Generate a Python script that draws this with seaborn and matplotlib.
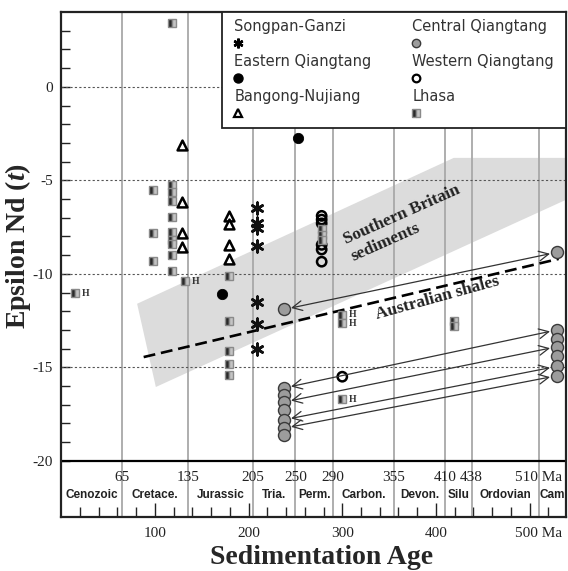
import matplotlib
matplotlib.use('Agg')
import matplotlib.pyplot as plt
import matplotlib.transforms as mtransforms
from matplotlib.patches import Rectangle
import seaborn as sns
import pandas as pd

#%% data (age in Ma, epsilon Nd)
songpan_age = [209, 209, 209, 209, 209, 209, 209]
songpan_eps = [-6.5, -7.3, -7.55, -8.5, -11.5, -12.7, -14.0]

eastern_age = [172, 253]
eastern_eps = [-11.1, -2.75]

bangong_age = [129, 129, 129, 129, 179, 179, 179, 179]
bangong_eps = [-3.1, -6.15, -7.8, -8.55, -6.9, -7.35, -8.45, -9.2]

western_age = [278, 278, 278, 278, 278, 278, 300]
western_eps = [-6.9, -7.1, -7.3, -8.45, -8.7, -9.35, -15.5]

central_age = [238, 238, 238, 238, 238, 238, 238, 238,
               529, 529, 529, 529, 529, 529, 529]
central_eps = [-11.9, -16.1, -16.5, -16.85, -17.3, -17.8, -18.25, -18.6,
               -8.85, -13.0, -13.5, -13.9, -14.4, -14.95, -15.45]

lhasa_age = [118, 98, 118, 118, 118, 118, 98, 118, 118, 118, 118, 98, 118,
             179, 179, 179, 179, 179, 278, 278, 278, 419, 419]
lhasa_eps = [3.4, -5.5, -5.25, -5.6, -6.1, -6.95, -7.8, -7.75, -8.2, -8.4, -9.0, -9.3, -9.85,
             -10.1, -12.5, -14.1, -14.8, -15.4, -7.6, -7.9, -8.2, -12.5, -12.8]
# Lhasa samples flagged "H"
lhasa_h_age = [15, 132, 300, 300, 300]
lhasa_h_eps = [-11.05, -10.4, -12.2, -12.65, -16.7]

# Central Qiangtang pairs joined by arrows
link_young_age = 238
link_old_age = 529
link_young_eps = [-11.9, -16.1, -16.85, -17.8, -18.25]
link_old_eps = [-8.85, -13.0, -13.9, -14.95, -15.45]

britain_age = [81, 419, 545, 545, 101]
britain_eps = [-11.6, -3.8, -3.8, -5.9, -16.05]

aus_age = [88, 531]
aus_eps = [-14.45, -9.2]

period_bounds = [0, 65, 135, 205, 250, 290, 355, 410, 438, 510, 539]
period_names = ['Cenozoic', 'Cretace.', 'Jurassic', 'Tria.', 'Perm.', 'Carbon.',
                'Devon.', 'Silu', 'Ordovian', 'Cam']
bound_labels = ['65', '135', '205', '250', '290', '355', '410', '438', '510 Ma']

#%% style
sns.set_style('white')
plt.rcParams['font.family'] = ['Liberation Serif', 'DejaVu Serif']
plt.rcParams['mathtext.fontset'] = 'custom'
plt.rcParams['mathtext.it'] = 'Liberation Serif:bold:italic'
plt.rcParams['mathtext.rm'] = 'Liberation Serif:bold'

fig = plt.figure(figsize=(5.68, 5.71), dpi=100)
ax = fig.add_axes([0.1078, 0.0946, 0.889, 0.8844])
ax.set_xlim(0, 539)
ax.set_ylim(-23, 4)

# grid: period boundaries and dotted eps levels
for b in period_bounds[1:-1]:
    ax.axvline(b, color='#a8a8a8', lw=1.3, zorder=1)
for lev in [0, -5, -10, -15]:
    ax.axhline(lev, color='#555555', lw=0.8, ls=(0, (2, 2)), zorder=1)
ax.axhline(-20, color='black', lw=1.6, zorder=2)

# Southern Britain field + Australian shales trend
ax.fill(britain_age, britain_eps, color='#dcdcdc', lw=0, zorder=0.5)
ax.plot(aus_age, aus_eps, color='black', lw=1.9, dashes=(4.5, 2.2), zorder=3)

ax.text(368, -7.3, 'Southern Britain\nsediments', rotation=24, rotation_mode='anchor',
        ha='center', va='center', multialignment='left', fontsize=12.5,
        fontweight='bold', color='#222222', zorder=4)
ax.text(402, -11.3, 'Australian shales', rotation=15.5, rotation_mode='anchor',
        ha='center', va='center', fontsize=12.5, fontweight='bold', color='#222222', zorder=4)

# arrows between Central Qiangtang samples
for y0, y1 in zip(link_young_eps, link_old_eps):
    ax.annotate('', xy=(link_young_age, y0), xytext=(link_old_age, y1),
                arrowprops=dict(arrowstyle='<->,head_length=0.7,head_width=0.35',
                                color='#333333', lw=0.9, shrinkA=5, shrinkB=5),
                zorder=6)

#%% points
sns.scatterplot(x=central_age, y=central_eps, marker='o', s=75, color='#9c9c9c',
                edgecolor='#3a3a3a', linewidth=1.0, ax=ax, zorder=5)
sns.scatterplot(x=songpan_age, y=songpan_eps, marker=(6, 2, 0), s=70, color='#111111',
                linewidth=1.9, ax=ax, zorder=5)
sns.scatterplot(x=eastern_age, y=eastern_eps, marker='o', s=55, color='black',
                edgecolor='black', ax=ax, zorder=5)
sns.scatterplot(x=bangong_age, y=bangong_eps, marker='^', s=50, facecolor='white',
                edgecolor='black', linewidth=1.8, ax=ax, zorder=5)
sns.scatterplot(x=western_age, y=western_eps, marker='o', s=45, facecolor='none',
                edgecolor='black', linewidth=1.8, ax=ax, zorder=5)

sq = dict(marker='s', ms=6.3, fillstyle='left', mfc='#2a2a2a', mfcalt='#c4c4c4',
          mec='#8a8a8a', mew=1.0, ls='none', zorder=5)
ax.plot(lhasa_age, lhasa_eps, **sq)
ax.plot(lhasa_h_age, lhasa_h_eps, **sq)
for a, e in zip(lhasa_h_age, lhasa_h_eps):
    ax.annotate('H', (a, e), xytext=(5, 0), textcoords='offset points', ha='left',
                va='center', fontsize=7, fontweight='bold', color='#333333', zorder=5)

#%% time-scale band under the plot
for b, lab in zip(period_bounds[1:-1], bound_labels):
    ax.text(b, -20.9, lab, ha='center', va='center', fontsize=11, color='#222222')
for i, name in enumerate(period_names):
    mid = (period_bounds[i] + period_bounds[i + 1]) / 2
    ax.text(mid, -21.85, name, ha='center', va='center', fontsize=8.5,
            family='Liberation Sans', fontweight='bold', color='#222222')

#%% axes, ticks, labels
ax.set_yticks([-20, -15, -10, -5, 0])
ax.set_yticklabels(['-20', '-15', '-10', '-5', '0'])
ax.set_yticks([v for v in range(-19, 4) if v % 5 != 0], minor=True)
ax.set_xticks([100, 200, 300, 400, 500])
ax.set_xticklabels(['100', '200', '300', '400', '500 Ma'])
ax.set_xticks([v for v in range(20, 539, 20) if v % 100 != 0], minor=True)
ax.tick_params(axis='y', which='both', direction='in', length=6.5, width=1.0,
               left=True, right=False, labelsize=11, pad=6, colors='#222222')
ax.tick_params(axis='x', which='major', direction='in', length=10, width=1.0,
               bottom=True, top=False, labelsize=11, pad=7, colors='#222222')
ax.tick_params(axis='x', which='minor', direction='in', length=7, width=1.0,
               bottom=True, top=False)
last = ax.get_xticklabels()[-1]
last.set_horizontalalignment('left')
last.set_transform(last.get_transform() + mtransforms.ScaledTranslation(-0.15, 0, fig.dpi_scale_trans))

for sp in ax.spines.values():
    sp.set_linewidth(1.6)
    sp.set_color('#222222')

ax.set_xlabel('Sedimentation Age', fontsize=20, fontweight='bold')
ax.xaxis.set_label_coords(0.516, -0.055)
ax.set_ylabel(r'Epsilon Nd ($\mathit{t}$)', fontsize=20, fontweight='bold')
ax.yaxis.set_label_coords(-0.056, 0.537)

#%% legend box (label above symbol, two columns)
ax.add_patch(Rectangle((0.318, 0.770), 0.682, 0.23, transform=ax.transAxes,
                       facecolor='white', edgecolor='#222222', lw=1.3, zorder=7))
leg_entries = [
    ('Songpan-Ganzi', 0.343, 0.971, dict(marker=(6, 2, 0), ms=7, mec='black', mew=1.8)),
    ('Eastern Qiangtang', 0.343, 0.902, dict(marker='o', ms=6.5, mfc='black', mec='black')),
    ('Bangong-Nujiang', 0.343, 0.832, dict(marker='^', ms=5.5, mfc='white', mec='black', mew=1.6)),
    ('Central Qiangtang', 0.695, 0.971, dict(marker='o', ms=6, mfc='#9c9c9c', mec='#3a3a3a')),
    ('Western Qiangtang', 0.695, 0.902, dict(marker='o', ms=5.5, mfc='none', mec='black', mew=1.6)),
    ('Lhasa', 0.695, 0.832, dict(marker='s', ms=5.5, fillstyle='left', mfc='#2a2a2a',
                                 mfcalt='#c4c4c4', mec='#8a8a8a')),
]
for lab, lx, ly, mk in leg_entries:
    ax.text(lx, ly, lab, transform=ax.transAxes, ha='left', va='center', fontsize=10.5,
            family='DejaVu Sans', color='#333333', zorder=8)
    ax.plot([lx + 0.007], [ly - 0.033], transform=ax.transAxes, ls='none',
            zorder=8, clip_on=False, **mk)

fig.savefig('out.png', dpi=100)
